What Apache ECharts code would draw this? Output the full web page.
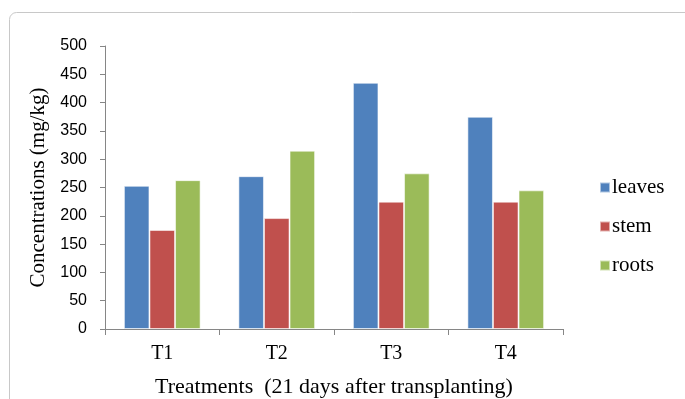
<!DOCTYPE html>
<html>
<head>
<meta charset="utf-8">
<script src="https://cdn.jsdelivr.net/npm/echarts@6/dist/echarts.min.js"></script>
<style>
  html, body { margin: 0; padding: 0; background: #fff; }
  #chart { width: 685px; height: 399px; }
</style>
</head>
<body>
<div id="chart"></div>
<script>
// Treatments and measured concentrations (mg/kg)
var categories = ['T1', 'T2', 'T3', 'T4'];
var leaves = [253, 270, 435, 375];
var stem = [175, 196, 225, 225];
var roots = [263, 315, 275, 245];
var yTicks = { min: 0, max: 500, interval: 50 };

var serif = '"Liberation Serif", "Times New Roman", serif';
var sans = '"Liberation Sans", Arial, sans-serif';

function barSeries(name, data, color) {
  return {
    name: name,
    type: 'bar',
    data: data,
    barGap: '0%',
    barCategoryGap: '33%',
    itemStyle: { color: color, borderColor: 'rgba(255,255,255,0.55)', borderWidth: 1 }
  };
}

var chart = echarts.init(document.getElementById('chart'), null, { renderer: 'canvas' });
chart.setOption({
  animation: false,
  backgroundColor: '#fff',
  graphic: [{
    type: 'rect',
    shape: { x: 9.5, y: 12.5, width: 690, height: 420, r: 7 },
    style: { fill: 'none', stroke: '#c8c8c8', lineWidth: 1 },
    silent: true
  }],
  grid: { left: 105, right: 122, top: 46, bottom: 70, containLabel: false, outerBoundsMode: 'none' },
  legend: {
    orient: 'vertical',
    left: 594,
    top: 172,
    itemWidth: 10,
    itemHeight: 10,
    itemGap: 18,
    icon: 'rect',
    textStyle: { fontFamily: serif, fontSize: 21, lineHeight: 20, color: '#000', padding: [0, 0, 0, -3] },
    data: ['leaves', 'stem', 'roots']
  },
  xAxis: {
    type: 'category',
    data: categories,
    name: 'Treatments  (21 days after transplanting)',
    nameLocation: 'middle',
    nameGap: 47,
    nameTextStyle: { fontFamily: serif, fontSize: 22, color: '#000' },
    axisLine: { lineStyle: { color: '#868686', width: 1 } },
    axisTick: { show: true, alignWithLabel: false, length: 6, lineStyle: { color: '#868686' } },
    axisLabel: { fontFamily: serif, fontSize: 20, color: '#000', margin: 15 }
  },
  yAxis: {
    type: 'value',
    min: yTicks.min,
    max: yTicks.max,
    interval: yTicks.interval,
    name: 'Concentrations (mg/kg)',
    nameLocation: 'middle',
    nameGap: 50,
    nameTextStyle: { fontFamily: serif, fontSize: 21, color: '#000' },
    axisLine: { show: true, lineStyle: { color: '#868686', width: 1 } },
    axisTick: { show: true, length: 5, lineStyle: { color: '#868686' } },
    splitLine: { show: false },
    axisLabel: { fontFamily: sans, fontSize: 16, color: '#000', margin: 18 }
  },
  series: [
    barSeries('leaves', leaves, '#4F81BD'),
    barSeries('stem', stem, '#C0504D'),
    barSeries('roots', roots, '#9BBB59')
  ]
});
</script>
</body>
</html>
